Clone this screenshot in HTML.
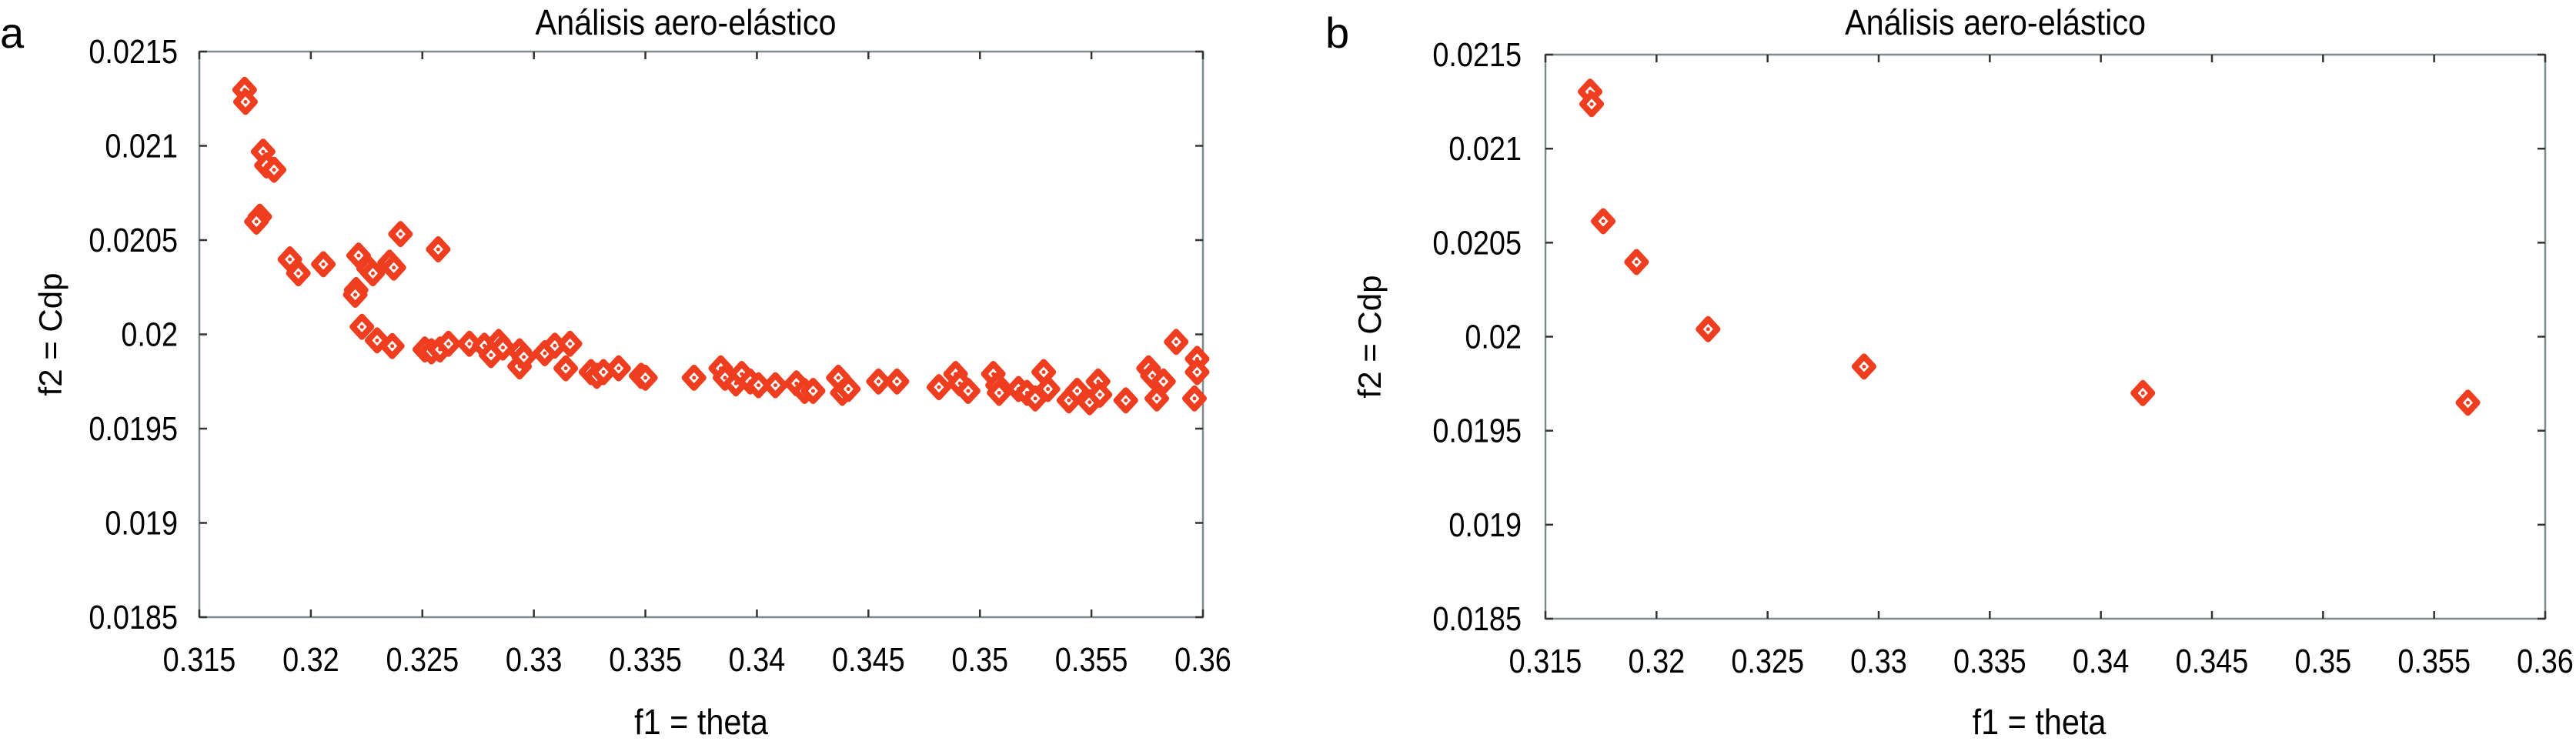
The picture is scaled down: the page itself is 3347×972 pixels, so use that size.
<!DOCTYPE html>
<html><head><meta charset="utf-8">
<style>
html,body{margin:0;padding:0;background:#fff;}
svg{display:block;}
text{font-family:"Liberation Sans",Arial,sans-serif;fill:#000;}
</style></head>
<body>
<svg id="chart" width="3347" height="972" viewBox="0 0 3347 972" xmlns="http://www.w3.org/2000/svg"></svg>
<script>
// Panel a data
const aTheta = [0.31703,0.31707,0.31786,0.31801,0.31835,0.31771,0.31756,0.31906,0.31944,0.32056,0.32203,0.32199,0.32214,0.32259,0.32278,0.32353,0.32372,0.32402,0.32229,0.32297,0.32365,0.32571,
0.32511,0.32541,0.32579,0.32617,0.32711,0.32778,0.32808,0.32842,0.32861,0.32936,0.32936,0.32955,0.33049,0.33094,0.33162,0.33143,
0.33256,0.33282,0.33312,0.33380,0.33481,0.33500,0.33718,0.33838,0.33857,0.33906,0.33932,0.33970,0.34007,0.34083,
0.34177,0.34214,0.34252,0.34365,0.34383,0.34410,0.34545,0.34628,
0.34816,0.34891,0.34910,0.34947,0.35060,0.35079,0.35086,0.35173,0.35211,0.35248,0.35286,0.35305,0.35399,0.35436,0.35492,0.35530,0.35538,0.35654,0.35756,0.35774,0.35793,0.35823,0.35880,0.35974,0.35974,0.35962];
const aCdp = [0.021297,0.021233,0.020969,0.020896,0.020873,0.020624,0.020598,0.020398,0.020324,0.020372,0.020235,0.020210,0.020418,0.020349,0.020324,0.020380,0.020354,0.020532,0.020040,0.019968,0.019938,0.020451,
0.01992,0.01991,0.01992,0.01995,0.01995,0.01994,0.01989,0.01996,0.01993,0.01991,0.01983,0.01988,0.01990,0.01994,0.01995,0.01982,
0.01980,0.01978,0.01980,0.01982,0.01978,0.01977,0.01977,0.01982,0.01977,0.01974,0.01979,0.01975,0.01973,0.01973,
0.01974,0.01970,0.01970,0.01977,0.01969,0.01971,0.01975,0.01975,
0.01972,0.01979,0.01974,0.01970,0.01979,0.01973,0.01969,0.01971,0.01969,0.01966,0.01980,0.01971,0.01965,0.01970,0.01964,0.01975,0.01968,0.01965,0.01982,0.01978,0.01966,0.01975,0.01996,0.01987,0.01980,0.01966];
// Panel b data
const bTheta = [0.31701,0.31708,0.31760,0.31910,0.32232,0.32934,0.34189,0.35652];
const bCdp = [0.021303,0.021237,0.020614,0.020397,0.020040,0.019841,0.019700,0.019649];
// Ticks
const xTicks = [0.315,0.32,0.325,0.33,0.335,0.34,0.345,0.35,0.355,0.36];
const xTickLabels = ["0.315","0.32","0.325","0.33","0.335","0.34","0.345","0.35","0.355","0.36"];
const yTicks = [0.0185,0.019,0.0195,0.02,0.0205,0.021,0.0215];
const yTickLabels = ["0.0185","0.019","0.0195","0.02","0.0205","0.021","0.0215"];

const NS = "http://www.w3.org/2000/svg";
const svg = document.getElementById("chart");
function mk(tag, attrs, parent){
  const e = document.createElementNS(NS, tag);
  for (const k in attrs) e.setAttribute(k, attrs[k]);
  (parent||svg).appendChild(e);
  return e;
}
function panel(id, box, xs, ys, letterPos, ylabX, ylabRight){
  const g = mk("g", {});
  
  
  const [L,T,R,B] = box;
  const sx = v => L + (v - 0.315) / 0.045 * (R - L);
  const sy = v => B - (v - 0.0185) / 0.003 * (B - T);
  const frame = mk("rect", {x:L,y:T,width:R-L,height:B-T,fill:"none",stroke:"#7f8a8c","stroke-width":2.5}, g);
  
  
  xTicks.forEach((v,i)=>{
    const x = sx(v);
    mk("line",{x1:x,y1:B,x2:x,y2:B-10,stroke:"#333","stroke-width":2.5},g);
    mk("line",{x1:x,y1:T,x2:x,y2:T+10,stroke:"#333","stroke-width":2.5},g);
    const t = mk("text",{x:0,y:0,"font-size":44,"text-anchor":"middle",transform:`translate(${x},${B+70}) scale(0.86,1)`},g);
    t.textContent = xTickLabels[i];
    
    
  });
  yTicks.forEach((v,i)=>{
    const y = sy(v);
    mk("line",{x1:L,y1:y,x2:L+10,y2:y,stroke:"#333","stroke-width":2.5},g);
    mk("line",{x1:R,y1:y,x2:R-10,y2:y,stroke:"#333","stroke-width":2.5},g);
    const t = mk("text",{x:0,y:0,"font-size":44,"text-anchor":"end",transform:`translate(${ylabRight},${y+15}) scale(0.86,1)`},g);
    t.textContent = yTickLabels[i];
    
    
  });
  for (let i=0;i<xs.length;i++){
    const x = sx(xs[i]), y = sy(ys[i]);
    const m = mk("path",{d:`M${x} ${y-13}L${x+12} ${y}L${x} ${y+13}L${x-12} ${y}Z`,fill:"#fff",stroke:"#ee3d1f","stroke-width":8,"stroke-linejoin":"round"},g);
    
    
    mk("circle",{cx:x,cy:y,r:2.5,fill:"#ee3d1f"},g);
  }
  const title = mk("text",{x:0,y:0,"font-size":46,"text-anchor":"middle",transform:`translate(${(L+R)/2+(id==="a"?-20:-65)},45) scale(0.9,1)`},g);
  title.textContent = "Análisis aero-elástico";
  
  
  const xl = mk("text",{x:0,y:0,"font-size":46,"text-anchor":"middle",transform:`translate(${(L+R)/2+(id==="a"?0:-8)},954) scale(0.9,1)`},g);
  xl.textContent = "f1 = theta";
  
  
  const yl = mk("text",{x:0,y:0,"font-size":42,"text-anchor":"middle",transform:`translate(${ylabX},${(T+B)/2}) rotate(-90)`},g);
  yl.textContent = "f2 = Cdp";
  
  
  const lt = mk("text",{x:letterPos[0],y:letterPos[1],"font-size":56},g);
  lt.textContent = id;
  
  
}
panel("a",[259,67,1563,802],aTheta,aCdp,[0,62],80,231);
panel("b",[2008,71,3307,804],bTheta,bCdp,[1722,62],1794,1977);
</script>
</body></html>
